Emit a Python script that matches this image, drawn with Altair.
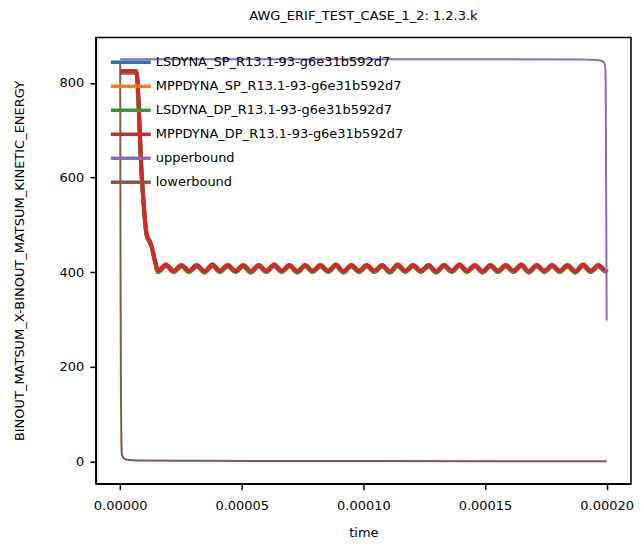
import altair as alt
import pandas as pd

# ---- data (time in microseconds, energy) ----
series_names = [
    "LSDYNA_SP_R13.1-93-g6e31b592d7",
    "MPPDYNA_SP_R13.1-93-g6e31b592d7",
    "LSDYNA_DP_R13.1-93-g6e31b592d7",
    "MPPDYNA_DP_R13.1-93-g6e31b592d7",
    "upperbound",
    "lowerbound",
]
series_colors = ["#1f77b4", "#ff7f0e", "#2ca02c", "#d62728", "#9467bd", "#8c564b"]
series_widths = [4, 4, 4, 4, 2, 2]

dyna_t = [
    0, 6.6, 8.9, 10.9, 11.9, 12.7, 14.3, 15.6,
    18.8, 22.0, 25.2, 28.3, 31.5, 34.7, 37.9, 41.0, 44.2, 47.4,
    50.6, 53.7, 56.9, 60.1, 63.3, 66.4, 69.6, 72.8, 76.0, 79.1,
    82.3, 85.5, 88.7, 91.8, 95.0, 98.2, 101.4, 104.5, 107.7, 110.9,
    114.1, 117.2, 120.4, 123.6, 126.8, 129.9, 133.1, 136.3, 139.5, 142.6,
    145.8, 149.0, 152.2, 155.3, 158.5, 161.7, 164.9, 168.0, 171.2, 174.4,
    177.6, 180.7, 183.9, 187.1, 190.3, 193.4, 196.6,
    199.6, 200.0,
]
mpp_v = [
    825, 825, 601, 480, 468, 459, 425, 403,
    416, 403, 415, 403, 415, 402, 416, 403, 415, 403,
    415, 402, 415, 403, 416, 403, 415, 402, 415, 403,
    415, 403, 416, 402, 415, 403, 415, 403, 415, 402,
    416, 403, 415, 403, 415, 402, 415, 403, 416, 403,
    415, 402, 415, 403, 415, 403, 416, 402, 415, 403,
    415, 403, 415, 402, 416, 403, 415,
    404, 407,
]
ls_v = [
    822, 822, 598, 477, 465, 456, 422, 400,
    413, 400, 412, 400, 412, 399, 413, 400, 412, 400,
    412, 399, 412, 400, 413, 400, 412, 399, 412, 400,
    412, 400, 413, 399, 412, 400, 412, 400, 412, 399,
    413, 400, 412, 400, 412, 399, 412, 400, 413, 400,
    412, 399, 412, 400, 412, 400, 413, 399, 412, 400,
    412, 400, 412, 399, 413, 400, 412,
    401, 404,
]
ub_t = [0, 100, 190, 196, 198.5, 199.3, 199.6, 200.0]
ub_v = [850, 850, 849.5, 848, 845, 838, 800, 298]
lb_t = [0, 0.15, 0.3, 0.5, 0.7, 1.2, 2, 3, 5, 10, 30, 100, 200]
lb_v = [845, 400, 150, 40, 15, 9, 5, 3.5, 2.7, 2, 1.2, 0.8, 0.5]

x_ticks = [0, 0.00005, 0.0001, 0.00015, 0.0002]
y_ticks = [0, 200, 400, 600, 800]

curves = {
    series_names[0]: (dyna_t, ls_v),
    series_names[1]: (dyna_t, mpp_v),
    series_names[2]: (dyna_t, ls_v),
    series_names[3]: (dyna_t, mpp_v),
    series_names[4]: (ub_t, ub_v),
    series_names[5]: (lb_t, lb_v),
}
rows = []
for name, (ts, vs) in curves.items():
    for i, (t, v) in enumerate(zip(ts, vs)):
        rows.append({"series": name, "time": t * 1e-6, "value": v, "idx": i})
df = pd.DataFrame(rows)

color_scale = alt.Scale(domain=series_names, range=series_colors)

x_enc = alt.X("time:Q", title="time",
              scale=alt.Scale(domain=[-0.00001, 0.00021], nice=False, zero=False),
              axis=alt.Axis(values=x_ticks, format=".5f", grid=False))
y_enc = alt.Y("value:Q", title="BINOUT_MATSUM_X-BINOUT_MATSUM_KINETIC_ENERGY",
              scale=alt.Scale(domain=[-47, 896], nice=False, zero=False),
              axis=alt.Axis(values=y_ticks, format="d", grid=False))

legend = alt.Legend(orient="none", legendX=23, legendY=13,
                    symbolType="M-2,0H2", symbolSize=400,
                    labelOffset=13, rowPadding=5,
                    labelFontSize=13, labelLimit=400)

layers = []
for name, w in zip(series_names, series_widths):
    layers.append(
        alt.Chart(df).transform_filter(alt.datum.series == name)
        .mark_line(interpolate="monotone", strokeCap="butt", strokeWidth=w)
        .encode(
            x=x_enc, y=y_enc,
            order="idx:Q",
            color=alt.Color("series:N", scale=color_scale, title=None, legend=legend),
        )
    )

chart = alt.layer(*layers).properties(
    width=536, height=447,
    padding={"top": 2, "left": 5, "right": 0, "bottom": 0},
    title=alt.TitleParams("AWG_ERIF_TEST_CASE_1_2: 1.2.3.k", fontSize=13,
                          fontWeight="normal", anchor="middle", offset=14, color="black"),
).configure(font="DejaVu Sans").configure_view(
    stroke="black", strokeWidth=1.5
).configure_axis(
    labelFontSize=13, titleFontSize=13, titleFontWeight="normal",
    labelColor="black", titleColor="black", tickColor="black", domainColor="black",
    tickSize=6, tickWidth=1.5, domainWidth=1.5,
).configure_axisY(labelPadding=6, titlePadding=33).configure_axisX(
    labelPadding=10, titlePadding=14
).configure_legend(
    labelColor="black", symbolStrokeWidth=3.5
)

chart.save("out.html", embed_options={"renderer": "svg", "actions": False})
